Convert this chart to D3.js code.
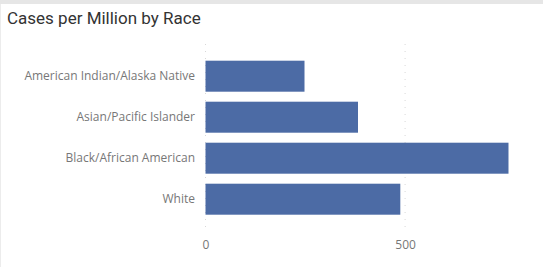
<!DOCTYPE html>
<html>
<head>
<meta charset="utf-8">
<script src="https://cdn.jsdelivr.net/npm/d3@7"></script>
<style>
  body { margin: 0; background: #fff; }
  svg { display: block; }
</style>
</head>
<body>
<div id="chart"></div>
<script>
// Chart data
const categories = ['American Indian/Alaska Native', 'Asian/Pacific Islander', 'Black/African American', 'White'];
const casesPerMillion = [248, 382, 759, 488];
const xTicks = [0, 500];
const title = 'Cases per Million by Race';

const W = 543, H = 267;
const margin = { top: 52.5, left: 205.5 };

const svg = d3.select('#chart')
  .append('svg')
  .attr('width', W)
  .attr('height', H);

// top gray strip and thin left border
svg.append('rect').attr('x', 0).attr('y', 0).attr('width', W).attr('height', 4).attr('fill', '#e6e6e6');
svg.append('rect').attr('x', 0).attr('y', 4).attr('width', 1).attr('height', H - 4).attr('fill', '#ececec');

// title
svg.append('text')
  .attr('x', 7)
  .attr('y', 23.5)
  .style('font-family', 'Roboto, sans-serif')
  .style('font-size', '17px')
  .style('fill', '#333')
  .text(title);

// scales
const xScale = d3.scaleLinear()
  .domain([0, 500])
  .range([margin.left, margin.left + 199.6]);

const yScale = d3.scaleBand()
  .domain(categories)
  .range([margin.top, margin.top + 170.4])
  .paddingInner(0.244)
  .paddingOuter(0.2);

const g = svg.append('g');

// dotted gridlines
g.selectAll('line.grid')
  .data(xTicks)
  .enter()
  .append('line')
  .attr('class', 'grid')
  .attr('x1', d => xScale(d))
  .attr('x2', d => xScale(d))
  .attr('y1', 44)
  .attr('y2', 233)
  .attr('stroke', '#d8d8d8')
  .attr('stroke-width', 1)
  .attr('stroke-dasharray', '1,6');

// bars
g.selectAll('rect.bar')
  .data(casesPerMillion)
  .enter()
  .append('rect')
  .attr('class', 'bar')
  .attr('x', xScale(0))
  .attr('y', (d, i) => yScale(categories[i]))
  .attr('width', d => xScale(d) - xScale(0))
  .attr('height', yScale.bandwidth())
  .attr('fill', '#4c6ba5');

// category axis
const yAxis = svg.append('g')
  .attr('transform', `translate(${margin.left - 10.5},0)`)
  .call(d3.axisLeft(yScale).tickSize(0).tickPadding(0));
yAxis.select('.domain').remove();
yAxis.selectAll('text')
  .style('font-family', '"Open Sans", sans-serif')
  .style('font-size', '12px')
  .style('fill', '#777');

// value axis
const xAxis = svg.append('g')
  .attr('transform', 'translate(0,240)')
  .call(d3.axisBottom(xScale).tickValues(xTicks).tickSize(0).tickPadding(0));
xAxis.select('.domain').remove();
xAxis.selectAll('text')
  .attr('dy', '0.71em')
  .style('font-family', '"Open Sans", sans-serif')
  .style('font-size', '12px')
  .style('fill', '#777');
</script>
</body>
</html>
